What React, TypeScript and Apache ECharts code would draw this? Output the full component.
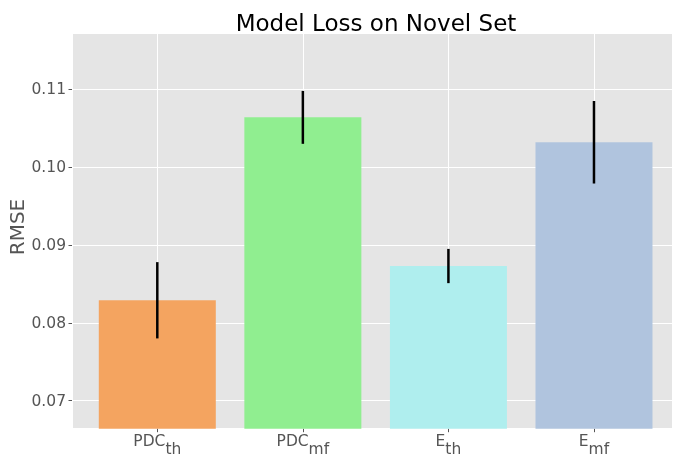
import React, { useEffect, useRef } from 'react';
import * as echarts from 'echarts';

const categories = ['PDC_th', 'PDC_mf', 'E_th', 'E_mf'];
const labelMain = ['PDC', 'PDC', 'E', 'E'];
const labelSub = ['th', 'mf', 'th', 'mf'];
const rmse = [0.0829, 0.1064, 0.0873, 0.1032];
const errors = [0.0049, 0.0034, 0.0022, 0.0053];
const barColors = ['#F4A460', '#90EE90', '#AFEEEE', '#B0C4DE'];
const yTickLabels = ['0.07', '0.08', '0.09', '0.10', '0.11'];
const titleText = 'Model Loss on Novel Set';
const yLabelText = 'RMSE';

export default function App() {
  const ref = useRef<HTMLDivElement>(null);
  useEffect(() => {
    const chart = echarts.init(ref.current!, null, { renderer: 'svg' });
    const font = 'DejaVu Sans';
    chart.setOption({
      animation: false,
      textStyle: { fontFamily: font },
      grid: {
        left: 72,
        right: 1,
        top: 33.3,
        bottom: 29.3,
        show: true,
        backgroundColor: '#E5E5E5',
        borderWidth: 0,
        containLabel: false,
        outerBoundsMode: 'none',
      },
      xAxis: {
        type: 'value',
        min: -0.586,
        max: 3.536,
        axisLine: { show: false, onZero: false },
        axisTick: { show: true, length: 3.5, lineStyle: { color: '#555555', width: 1 } },
        splitLine: { show: true, lineStyle: { color: '#FFFFFF', width: 1 } },
        axisLabel: {
          showMinLabel: false,
          showMaxLabel: false,
          margin: 4.5,
          formatter: (v: number) => {
            const i = Math.round(v);
            if (Math.abs(v - i) > 1e-6 || i < 0 || i >= categories.length) return '';
            return `{a|${labelMain[i]}}{b|${labelSub[i]}}`;
          },
          rich: {
            a: { fontSize: 15.5, fontFamily: font, color: '#555555', lineHeight: 15, verticalAlign: 'top' },
            b: { fontSize: 15.5, fontFamily: font, color: '#555555', lineHeight: 31, verticalAlign: 'middle' },
          },
        },
      },
      yAxis: {
        type: 'value',
        min: 0.0664,
        max: 0.1172,
        axisLine: { show: false, onZero: false },
        axisTick: { show: true, length: 3.5, lineStyle: { color: '#555555', width: 1 } },
        splitLine: { show: true, lineStyle: { color: '#FFFFFF', width: 1 } },
        axisLabel: {
          showMinLabel: false,
          showMaxLabel: false,
          margin: 6,
          fontSize: 15.5,
          fontFamily: font,
          color: '#555555',
          formatter: (v: number) => {
            const k = Math.round(v * 100);
            if (Math.abs(v * 100 - k) > 1e-6) return '';
            const idx = k - 7;
            return yTickLabels[idx] ?? '';
          },
        },
      },
      graphic: [
        {
          type: 'text',
          x: 376,
          y: 23,
          style: {
            text: titleText,
            fontSize: 23,
            fontFamily: font,
            fill: '#000000',
            textAlign: 'center',
            textVerticalAlign: 'middle',
          },
        },
        {
          type: 'text',
          x: 17,
          y: 227,
          rotation: Math.PI / 2,
          style: {
            text: yLabelText,
            fontSize: 20,
            fontFamily: font,
            fill: '#555555',
            textAlign: 'center',
            textVerticalAlign: 'middle',
          },
        },
      ],
      series: [
        {
          type: 'bar',
          barWidth: 117,
          data: rmse.map((v, i) => ({ value: [i, v], itemStyle: { color: barColors[i] } })),
          z: 2,
        },
        {
          type: 'custom',
          z: 3,
          data: rmse.map((v, i) => [i, v - errors[i], v + errors[i]]),
          encode: { x: 0, y: [1, 2] },
          renderItem: (_p: any, api: any) => {
            const lo = api.coord([api.value(0), api.value(1)]);
            const hi = api.coord([api.value(0), api.value(2)]);
            return {
              type: 'line',
              shape: { x1: lo[0], y1: lo[1], x2: hi[0], y2: hi[1] },
              style: { stroke: '#000000', lineWidth: 2.5 },
            };
          },
        },
      ],
    });
    return () => chart.dispose();
  }, []);
  return (
    <div
      ref={ref}
      style={{ position: 'fixed', left: 0, top: 0, width: 673, height: 458 }}
    />
  );
}
